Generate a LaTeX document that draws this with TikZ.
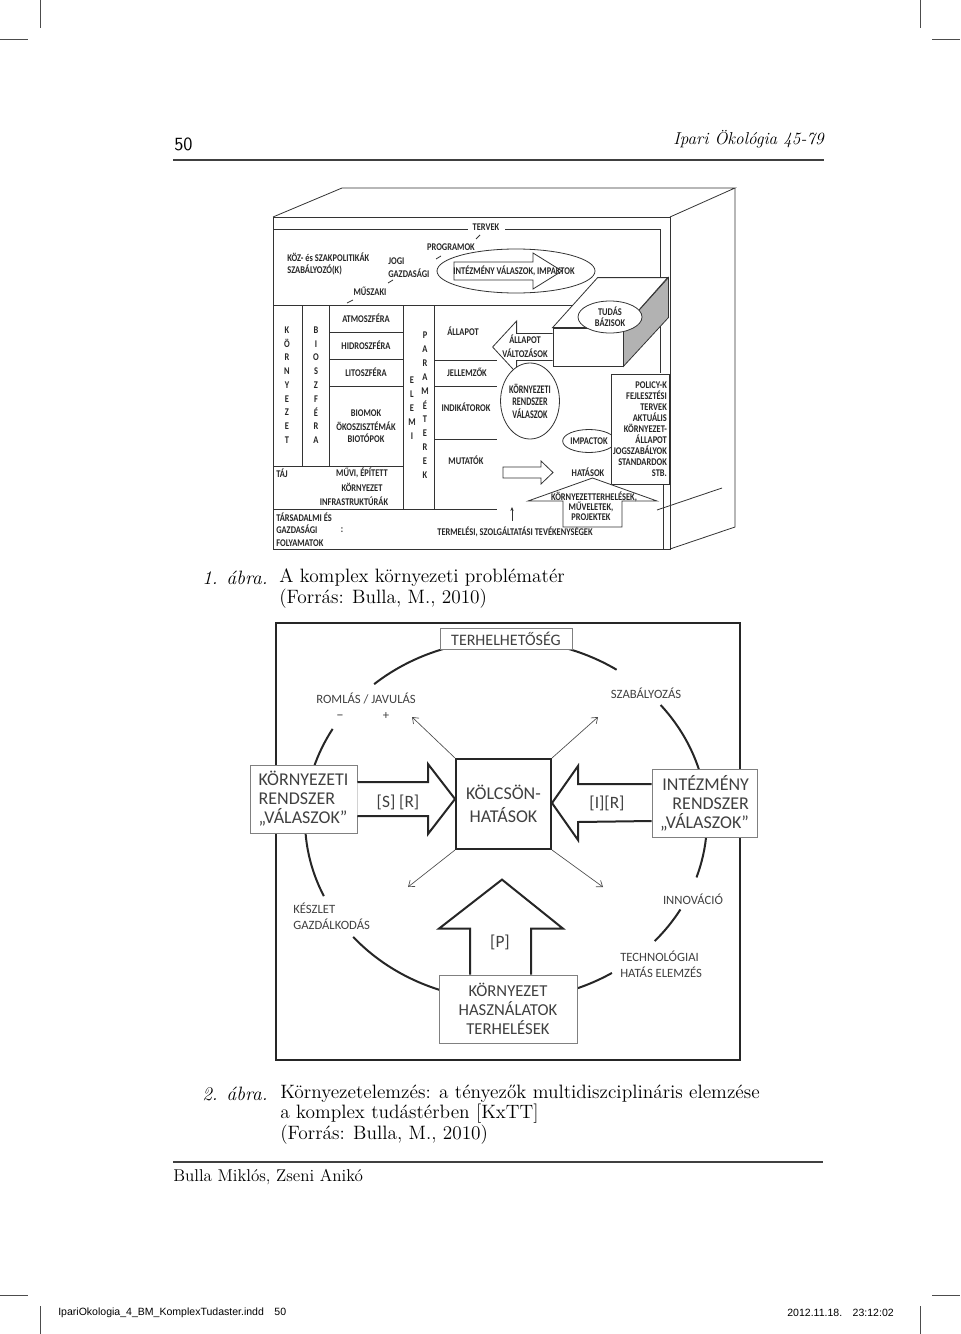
\documentclass[tikz,border=0pt]{standalone}
\usepackage{fontspec}
\newfontfamily\calibri{Carlito}
\newfontfamily\calnar[FakeStretch=0.82]{Carlito}
\newfontfamily\calnarr[FakeStretch=0.7]{Carlito}
\newfontfamily\arial{Liberation Sans}
\usetikzlibrary{arrows.meta,calc,positioning,shapes.geometric}
\definecolor{dg}{gray}{0.25}
\definecolor{lg}{gray}{0.5}
\tikzset{
    crop/.style =   {line width=0.5pt,
                    draw=black!70},
    rule/.style =   {line width=0.8pt,
                    draw=black!75},
    fa/.style =     {font=\calnar\bfseries\fontsize{7.7}{8.2}\selectfont,
                    text=black!85,
                    inner sep=0pt,
                    align=center},
    fab/.style =    {font=\calnarr\bfseries\fontsize{8.7}{9.4}\selectfont,
                    text=black!85,
                    inner sep=0pt,
                    align=center},
    wire/.style =   {line width=0.6pt,
                    draw=black!80},
    outline/.style ={line width=0.6pt,
                    draw=black!80,
                    fill=white},
    fb/.style =     {font=\calibri\fontsize{9.5}{12}\selectfont,
                    text=dg,
                    inner sep=0pt,
                    align=left},
    box/.style =    {rectangle,
                    draw=lg,
                    line width=0.6pt,
                    fill=white,
                    text=dg,
                    font=\calibri\fontsize{13.5}{14.25}\selectfont,
                    inner sep=0pt},
    frame/.style =  {line width=1.2pt,
                    draw=black!85},
    ring/.style =   {line width=1.5pt,
                    draw=black!85},
    fat/.style =    {line width=1.5pt,
                    draw=black!85,
                    fill=white},
    thin arrow/.style = {line width=0.5pt,
                    draw=black!70,
                    -{Straight Barb[length=4pt,width=6pt]}},
    capt/.style =   {font=\fontsize{14.5}{17}\selectfont,
                    anchor=west,
                    inner sep=0pt},
    foot/.style =   {font=\arial\fontsize{7.9}{9}\selectfont,
                    anchor=west,
                    inner sep=0pt}
}
\begin{document}
\begin{tikzpicture}[x=0.75pt,y=-0.75pt]
\useasboundingbox (0,0) rectangle (960,1334);

% crop marks
\draw[crop] (40,0) -- (40,28) (0,39) -- (28,39) (920,0) -- (920,28) (932,39) -- (960,39);
\draw[crop] (40,1306) -- (40,1334) (0,1295) -- (28,1295) (920,1306) -- (920,1334) (932,1295) -- (960,1295);

% header
\node[anchor=west, inner sep=0pt, font=\sffamily\fontsize{14}{16}\selectfont] (pg) at (174,144) {50};
\node[anchor=east, inner sep=0pt, font=\itshape\fontsize{12.9}{14}\selectfont] (run) at (824,139) {Ipari Ökológia 45-79};
\draw[rule] (173,160) -- (824,160);

% --- 1. abra: the box
\draw[wire] (273,217) rectangle (670,549);
\draw[wire] (273,217) -- (342,188) -- (735,188) -- (670,217);
\draw[wire] (735,188) -- (735,527) -- (670,549);
\draw[wire] (657,510) -- (722,488);
\draw[wire] (273,229) -- (468,229) (505,229) -- (660,229) -- (660,373);
\draw[wire] (273,305) -- (574,305);
\draw[wire] (302,305) -- (302,466) (329,305) -- (329,466) (403,305) -- (403,509) (434,305) -- (434,509);
\draw[wire] (329,332) -- (403,332) (329,359) -- (403,359) (329,386) -- (403,386);
\draw[wire] (273,466) -- (403,466) (273,509) -- (497,509);
\draw[wire] (434,360) -- (497,360) (434,386) -- (497,386) (434,439) -- (497,439);
\draw[wire] (663,484) -- (663,549);

\node[fa] (terv) at (486,227) {TERVEK};
\node[fa] (prog) at (451,247) {PROGRAMOK};
\node[fa, anchor=west] (koz) at (287,257) {KÖZ- és SZAKPOLITIKÁK};
\node[fa, anchor=west] (szab) at (287,270) {SZABÁLYOZÓ(K)};
\node[fa, anchor=west] (jogi) at (388,261) {JOGI};
\node[fa, anchor=west] (gazd) at (388,273) {GAZDASÁGI};
\node[fa] (musz) at (370,291) {MŰSZAKI};
\draw[wire] (476,239) -- (480,235) (436,259) -- (441,256) (388,283) -- (393,280) (347,303) -- (353,300);

\node[ellipse, outline, minimum width=118.5pt, minimum height=33pt] (intez) at (516,271) {};
\draw[outline] ($(intez.center)+(-62,-9)$) -- ++(79,0) -- ++(0,-9) -- ++(29,18) -- ++(-29,18) -- ++(0,-9) -- ++(-79,0) -- cycle;
\node[fa] at (514,271) {INTÉZMÉNY VÁLASZOK, IMPAKTOK};

\node[fa] (atm) at (366,318) {ATMOSZFÉRA};
\node[fa] (hid) at (366,345) {HIDROSZFÉRA};
\node[fa] (lit) at (366,372) {LITOSZFÉRA};
\node[fa] (bio) at (366,413) {BIOMOK};
\node[fa] (oko) at (366,426) {ÖKOSZISZTÉMÁK};
\node[fa] (bit) at (366,438) {BIOTÓPOK};

\foreach \ch [count=\i] in {K,Ö,R,N,Y,E,Z,E,T}
    \node[fa] at (287,{330+(\i-1)*13.75}) {\ch};
\foreach \ch [count=\i] in {B,I,O,S,Z,F,É,R,A}
    \node[fa] at (316,{330+(\i-1)*13.75}) {\ch};
\foreach \ch [count=\i] in {E,L,E,M,I}
    \node[fa] at (412,{380+(\i-1)*14}) {\ch};
\foreach \ch [count=\i] in {P,A,R,A,M,É,T,E,R,E,K}
    \node[fa] at (425,{335+(\i-1)*14}) {\ch};

\node[fa, anchor=west] (taj) at (276,473) {TÁJ};
\node[fa] (muvi) at (362,473) {MŰVI, ÉPÍTETT};
\node[fa] (korny) at (362,487) {KÖRNYEZET};
\node[fa] (infra) at (354,501) {INFRASTRUKTÚRÁK};
\node[fa, anchor=west] (tars) at (276,517) {TÁRSADALMI ÉS};
\node[fa, anchor=west] (gazf) at (276,529) {GAZDASÁGI};
\node[fa, anchor=west] (foly) at (276,543) {FOLYAMATOK};
\node[fa] at (342,530) {:};
\node[fa] (term) at (515,532) {TERMELÉSI, SZOLGÁLTATÁSI TEVÉKENYSÉGEK};
\draw[wire, -{Stealth[length=3pt,width=2.5pt]}] (512,521) -- (512,507);

\node[fa] (all) at (463,331) {ÁLLAPOT};
\node[fa] (jell) at (467,372) {JELLEMZŐK};
\node[fa] (indi) at (466,407) {INDIKÁTOROK};
\node[fa] (muta) at (466,460) {MUTATÓK};

% tudas bazisok block
\node[rectangle, outline, minimum width=52.5pt, minimum height=28.5pt, inner sep=0pt] (tfront) at (588,347) {};
\draw[outline] (tfront.north west) -- ++(45,-50) -- ++(70,0) -- (tfront.north east) -- cycle;
\draw[outline, fill=gray!60] (tfront.north east) -- ++(45,-50) -- ++(0,40) -- (tfront.south east) -- cycle;
\node[ellipse, outline, fa, minimum width=48pt, minimum height=24pt] (tudas) at (610,317) {TUDÁS\\BÁZISOK};

\draw[outline] ($(tfront.west)+(0,-13.5)$) -- ++(-36,0) -- ++(0,-12.5) -- ++(-24,26) -- ++(24,26) -- ++(0,-12.5) -- ($(tfront.west)+(0,13.5)$);
\node[fa, font=\calnar\bfseries\fontsize{7.7}{10.5}\selectfont] (valt) at (525,346) {ÁLLAPOT\\VÁLTOZÁSOK};

\node[ellipse, outline, fab, minimum width=42pt, minimum height=57pt] (kornyc) at (530,401) {KÖRNYEZETI\\RENDSZER\\VÁLASZOK};
\node[ellipse, outline, fa, minimum width=33pt, minimum height=17.25pt] (impact) at (589,441) {IMPACTOK};
\node[rectangle, outline, fa, align=right, minimum width=43.5pt, minimum height=82.5pt,
      font=\calnar\bfseries\fontsize{7.7}{8.25}\selectfont] (policy) at (640,429)
      {POLICY-K\\FEJLESZTÉSI\\TERVEK\\AKTUÁLIS\\KÖRNYEZET-\\ÁLLAPOT\\JOGSZABÁLYOK\\STANDARDOK\\STB.};

\coordinate (mtail) at (503,472.5);
\draw[outline] ($(mtail)+(0,-5.5)$) -- ++(38,0) -- ++(0,-6) -- ++(12,11.5) -- ++(-12,11.5) -- ++(0,-6) -- ++(-38,0) -- cycle;
\node[fa] (hat) at (588,472) {HATÁSOK};

\coordinate (upbase) at (592.5,527);
\draw[outline] ($(upbase)+(-29.5,0)$) -- ++(0,-26) -- ++(-35,0) -- ++(64.5,-23) -- ++(64.5,23) -- ++(-35,0) -- ++(0,26) -- cycle;
\node[fa] (kterh) at (594,497) {KÖRNYEZETTERHELÉSEK,};
\node[fa] (muv) at (591,507) {MŰVELETEK,};
\node[fa] (proj) at (591,517) {PROJEKTEK};

% captions 1
\node[capt] (c1a) at (202,578) {\itshape 1. ábra.};
\node[capt] (c1b) at (279,578) {A komplex környezeti problématér};
\node[capt] (c1c) at (279,599) {(Forrás: Bulla, M., 2010)};

% --- 2. abra
\draw[frame] (276,623) rectangle (740,1060);
\coordinate (ctr) at (506,820);
\draw[ring] ($(ctr)+(229:201 and 180)$) arc[start angle=229, end angle=303.4, x radius=201, y radius=180];
\draw[ring] ($(ctr)+(-39.7:201 and 180)$) arc[start angle=-39.7, end angle=18.6, x radius=201, y radius=180];
\draw[ring] ($(ctr)+(29.8:201 and 180)$) arc[start angle=29.8, end angle=42.3, x radius=201, y radius=180];
\draw[ring] ($(ctr)+(58.2:201 and 180)$) arc[start angle=58.2, end angle=139.5, x radius=201, y radius=180];
\draw[ring] ($(ctr)+(155:201 and 180)$) arc[start angle=155, end angle=210.4, x radius=201, y radius=180];

\node[box, minimum width=99pt, minimum height=15.75pt, font=\calibri\fontsize{12}{14}\selectfont] (terh) at (506,638.5) {TERHELHETŐSÉG};
\node[box, align=left, minimum width=80.25pt, minimum height=51pt] (kr) at (303.5,799) {KÖRNYEZETI\\RENDSZER\\„VÁLASZOK”};
\node[box, align=center, draw=black!85, line width=1.5pt, minimum width=71.25pt, minimum height=67.5pt, font=\calibri\fontsize{13.5}{17}\selectfont] (kh) at (503.5,804) {KÖLCSÖN-\\HATÁSOK};
\node[box, align=right, minimum width=78.75pt, minimum height=51pt] (ir) at (704.5,803) {INTÉZMÉNY\\RENDSZER\\„VÁLASZOK”};
\node[box, align=center, minimum width=103.5pt, minimum height=51pt, font=\calibri\fontsize{12.5}{14.25}\selectfont] (kk) at (508,1009) {KÖRNYEZET\\HASZNÁLATOK\\TERHELÉSEK};

\coordinate (ktip) at (kh.west |- kr.east);
\draw[fat] ($(kr.east)+(0,-17)$) -- ($(ktip)+(-27,-17)$) -- ++(0,-18) -- (ktip) -- ($(ktip)+(-27,35)$) -- ++(0,-18) -- ($(kr.east)+(0,17)$);
\coordinate (itip) at (kh.east |- ir.west);
\draw[fat] ($(ir.west)+(0,-19)$) -- ($(itip)+(26,-19)$) -- ++(0,-18) -- (itip) -- ($(itip)+(26,37)$) -- ++(0,-18) -- ($(ir.west)+(0,18)$);
\coordinate (ptip) at ($(kk.north)+(-6,-95)$);
\draw[fat] ($(kk.north)+(-38,0)$) -- ++(0,-46) -- ++(-31,0) -- (ptip) -- ++(61,49) -- ++(-32,0) -- ++(0,46);

\node[fb, font=\calibri\fontsize{13}{15}\selectfont] (sr) at (398,802) {[S] [R]};
\node[fb, font=\calibri\fontsize{13}{15}\selectfont] (irl) at (607,803) {[I][R]};
\node[fb, font=\calibri\fontsize{13}{15}\selectfont] (pl) at (500,942) {[P]};

\coordinate (romlas) at (412,717);
\coordinate (szabt) at (598,717);
\coordinate (keszt) at (408,887);
\coordinate (techt) at (603,887);
\draw[thin arrow] (kh.north west) -- (romlas);
\draw[thin arrow] (kh.north east) -- (szabt);
\draw[thin arrow] (kh.south west) -- (keszt);
\draw[thin arrow] (kh.south east) -- (techt);

\node[fb] (lroml) at (366,698) {ROMLÁS / JAVULÁS};
\node[fb, font=\calibri\fontsize{11}{12}\selectfont] (lminus) at (340,717) {–};
\node[fb] (lplus) at (386,716) {+};
\node[fb] (lszab) at (646,693) {SZABÁLYOZÁS};
\node[fb, anchor=west] (lkesz) at (293,916.5) {KÉSZLET\\GAZDÁLKODÁS};
\node[fb] (linno) at (693,899) {INNOVÁCIÓ};
\node[fb, anchor=west] (ltech) at (620,964.5) {TECHNOLÓGIAI\\HATÁS ELEMZÉS};

% captions 2
\node[capt] (c2a) at (202,1094) {\itshape 2. ábra.};
\node[capt] (c2b) at (280,1094) {Környezetelemzés: a tényezők multidiszciplináris elemzése};
\node[capt] (c2c) at (280,1114) {a komplex tudástérben [KxTT]};
\node[capt] (c2d) at (280,1135) {(Forrás: Bulla, M., 2010)};
\draw[rule] (173,1162) -- (823,1162);
\node[capt, font=\fontsize{12.8}{15}\selectfont] (auth) at (173,1177) {Bulla Miklós, Zseni Anikó};

% footer
\node[foot] (slug) at (58,1313) {IpariOkologia\_4\_BM\_KomplexTudaster.indd\quad 50};
\node[foot, anchor=east] (date) at (894,1313) {2012.11.18.\quad 23:12:02};
\end{tikzpicture}
\end{document}
